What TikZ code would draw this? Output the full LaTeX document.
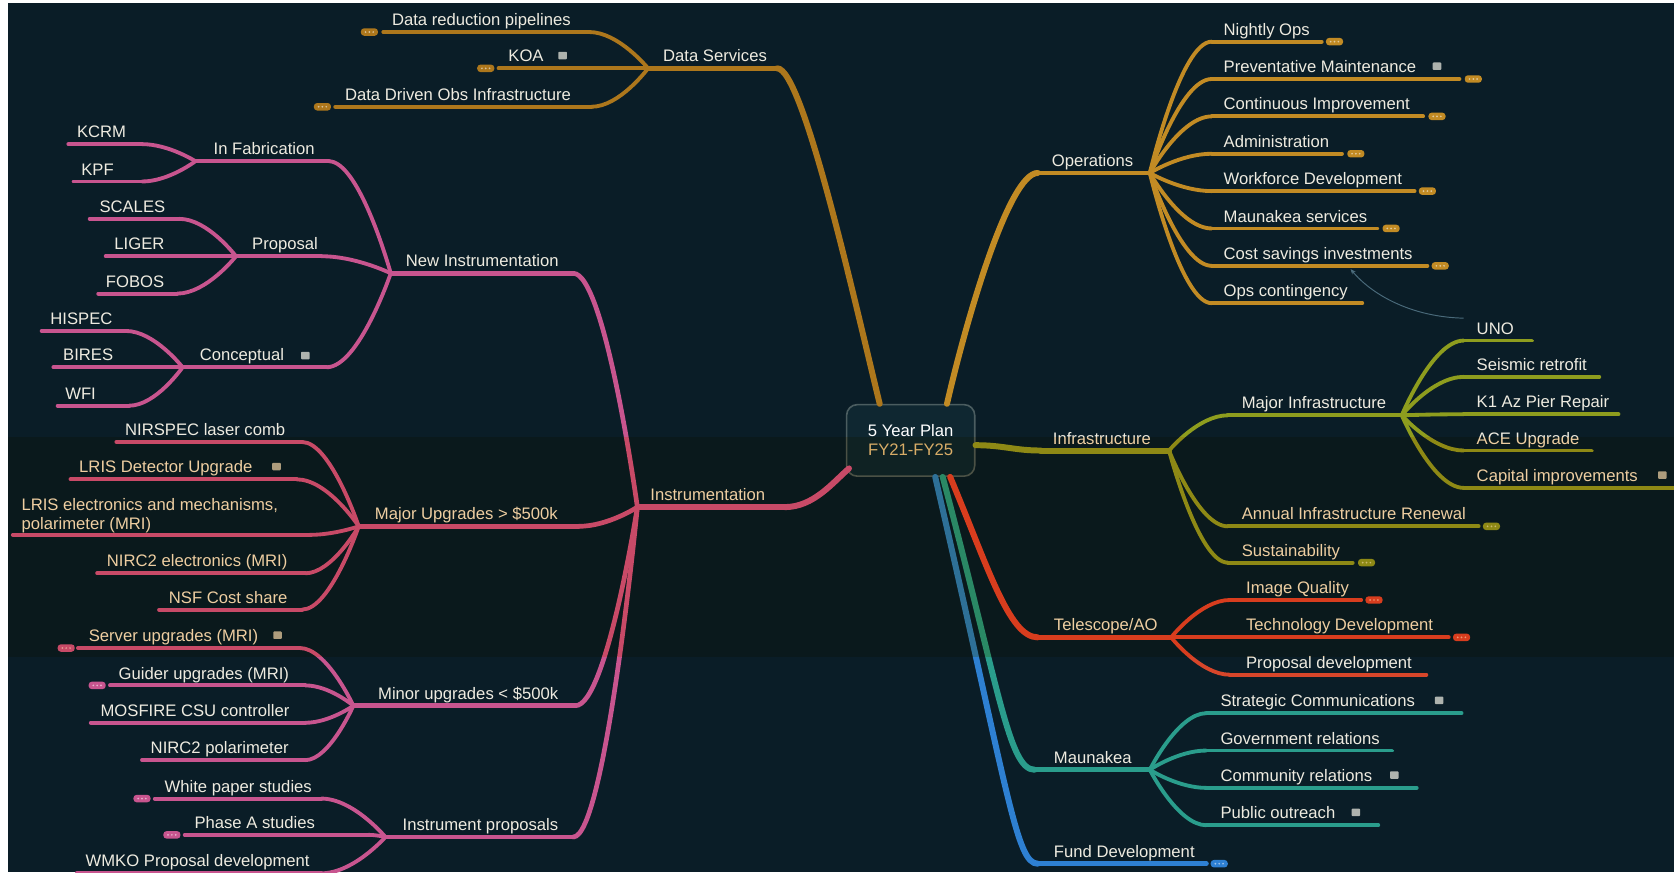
\documentclass[tikz,border=0pt]{standalone}
\usepackage{fontspec}
\setmainfont{Liberation Sans}
\usetikzlibrary{calc,arrows.meta}
\definecolor{bgC}{HTML}{0A1D27}
\definecolor{bandM}{HTML}{FFE0B8}
\definecolor{txtC}{HTML}{EEEBE0}
\definecolor{fyC}{HTML}{D8C590}
\definecolor{dsC}{HTML}{AD771C}
\definecolor{opC}{HTML}{C28B24}
\definecolor{pkC}{HTML}{C8558F}
\definecolor{olC}{HTML}{8E9D1E}
\definecolor{rdC}{HTML}{D8462A}
\definecolor{tlC}{HTML}{2A9D8C}
\definecolor{blC}{HTML}{2E80D2}
\definecolor{relC}{HTML}{4A6A7A}
\definecolor{noteC}{HTML}{AEB3AE}
\definecolor{rootB}{HTML}{4B5D60}
\definecolor{rootF}{HTML}{3C8090}
\newcommand\fs{\fontsize{15.6}{18}\selectfont}
\tikzset{
  lbl/.style={text=txtC, inner sep=0pt, font=\fs},
  wLeaf/.style={line width=3.6pt, line cap=round},
  wMid/.style={line width=4.4pt, line cap=round},
  wMain/.style={line width=5.6pt, line cap=round},
  cDS/.style={draw=dsC}, cOP/.style={draw=opC}, cPK/.style={draw=pkC},
  cOL/.style={draw=olC}, cRD/.style={draw=rdC}, cTL/.style={draw=tlC},
  cBL/.style={draw=blC},
  badge/.style={rounded corners=3pt, minimum width=16pt, minimum height=7pt, inner sep=0pt},
  notei/.style={fill=noteC, minimum width=8pt, minimum height=7pt, inner sep=0pt, rounded corners=0.8pt},
  relS/.style={draw=relC, line width=0.9pt},
  rootbox/.style={draw=rootB, line width=1.5pt, fill=rootF, fill opacity=0.1, text opacity=1,
    rounded corners=10pt, minimum width=120pt, minimum height=67pt, inner sep=0pt,
    text=white, font=\fs, align=center}
}
% topic: name, style, x start, x end, y line, x text, text
\newcommand\tp[7]{%
  \coordinate (#1S) at (#3,#5);
  \coordinate (#1E) at (#4,#5);
  \draw[#2] (#1S) -- (#1E);
  \node[lbl, anchor=base west] (#1) at (#6,#5-6) {#7};
}
\newcommand\lk[3]{\draw[#1] (#2) .. controls (#2) and ($(#3)!0.5!(#3 -| #2)$) .. (#3);}
\newcommand\bdg[3]{\node[badge, fill=#2] (#1) at (#3) {};
  \fill[white, fill opacity=0.55] ($(#1.center)+(-3.6,0)$) circle (0.9pt) (#1.center) circle (0.9pt) ($(#1.center)+(3.6,0)$) circle (0.9pt);}
\newcommand\nte[2]{\node[notei] (#1) at (#2) {};}
\begin{document}
\begin{tikzpicture}[x=1pt,y=-1pt]
\useasboundingbox (0,0) rectangle (1568,817);
\fill[white] (0,0) rectangle (1568,817);
\fill[bgC] (7.5,3) rectangle (1568,817);
\begin{scope}
\clip (7.5,3) rectangle (1568,817);
% root
\node[rootbox] (root) at (853,412.5) {5 Year Plan\\\textcolor{fyC}{FY21-FY25}};
\coordinate (rDS) at ($(root.north)+(-29,0)$);
\coordinate (rOP) at ($(root.north)+(34,0)$);
\coordinate (rIN) at ($(root.east)+(0,4.5)$);
\coordinate (rIS) at ($(root.south west)+(3,-8)$);
\coordinate (rTE) at ($(root.south)+(37,0)$);
\coordinate (rMK) at ($(root.south)+(30,0)$);
\coordinate (rFD) at ($(root.south)+(23,0)$);

% ---------- Data Services
\tp{dsv}{wMid,cDS}{607}{728}{64}{621}{Data Services}
\tp{drp}{wLeaf,cDS}{359}{552}{30}{367}{Data reduction pipelines}
\tp{koa}{wLeaf,cDS}{467}{607}{64}{476}{KOA}
\tp{ddo}{wLeaf,cDS}{314}{554}{100}{323}{Data Driven Obs Infrastructure}
\lk{wLeaf,cDS}{dsvS}{drpE}
\lk{wLeaf,cDS}{dsvS}{ddoE}
\draw[wMain,cDS] (rDS) .. controls (800,280) and (752,64) .. (dsvE);
\bdg{b1}{dsC}{346,30}
\bdg{b2}{dsC}{455,64}
\bdg{b3}{dsC}{302,100}
\nte{n1}{527,52}

% ---------- Operations
\tp{ops}{wMid,cOP}{972}{1077}{162}{985}{Operations}
\draw[wMain,cOP] (rOP) .. controls (905,300) and (945,162) .. (opsS);
\tp{nops}{wLeaf,cOP}{1135}{1238}{39}{1146}{Nightly Ops}
\tp{pm}{wLeaf,cOP}{1135}{1367}{74}{1146}{Preventative Maintenance}
\tp{ci}{wLeaf,cOP}{1135}{1333}{109}{1146}{Continuous Improvement}
\tp{adm}{wLeaf,cOP}{1135}{1257}{144}{1146}{Administration}
\tp{wfd}{wLeaf,cOP}{1135}{1325}{179}{1146}{Workforce Development}
\tp{mks}{wLeaf,cOP}{1135}{1290}{214}{1146}{Maunakea services}
\tp{csi}{wLeaf,cOP}{1135}{1337}{249}{1146}{Cost savings investments}
\tp{opc}{wLeaf,cOP}{1135}{1276}{284}{1146}{Ops contingency}
\foreach \c in {nops,pm,ci,adm,wfd,mks,csi,opc} {\lk{wLeaf,cOP}{opsE}{\c S}}
\bdg{b4}{opC}{1250,39}
\bdg{b5}{opC}{1380,74}
\bdg{b6}{opC}{1346,109}
\bdg{b7}{opC}{1270,144}
\bdg{b8}{opC}{1337,179}
\bdg{b9}{opC}{1303,214}
\bdg{b10}{opC}{1349,249}
\nte{n2}{1346,62}

% ---------- Infrastructure
\tp{inf}{wMain,cOL}{975}{1095}{422}{986}{Infrastructure}
\draw[wMain,cOL] (rIN) .. controls (940,417) and (950,422) .. (infS);
\tp{mji}{wLeaf,cOL}{1150}{1313}{389}{1163}{Major Infrastructure}
\tp{air}{wLeaf,cOL}{1150}{1385}{493}{1163}{Annual Infrastructure Renewal}
\tp{sus}{wLeaf,cOL}{1150}{1267}{527}{1163}{Sustainability}
\foreach \c in {mji,air,sus} {\lk{wLeaf,cOL}{infE}{\c S}}
\tp{uno}{wLeaf,cOL}{1371}{1435}{319}{1383}{UNO}
\tp{sr}{wLeaf,cOL}{1371}{1498}{353}{1383}{Seismic retrofit}
\tp{kap}{wLeaf,cOL}{1371}{1516}{388}{1383}{K1 Az Pier Repair}
\tp{ace}{wLeaf,cOL}{1371}{1491}{422}{1383}{ACE Upgrade}
\tp{cap}{wLeaf,cOL}{1371}{1578}{457}{1383}{Capital improvements}
\foreach \c in {uno,sr,kap,ace,cap} {\lk{wLeaf,cOL}{mjiE}{\c S}}
\bdg{b11}{olC}{1397,493}
\bdg{b12}{olC}{1280,527}
\nte{n3}{1557,445}

% ---------- Telescope/AO
\tp{tel}{wMid,cRD}{972}{1097}{597}{987}{Telescope/AO}
\draw[wMain,cRD] (rTE) .. controls (925,530) and (945,597) .. (telS);
\tp{iq}{wLeaf,cRD}{1152}{1275}{562}{1167}{Image Quality}
\tp{td}{wLeaf,cRD}{1152}{1357}{597}{1167}{Technology Development}
\tp{pd}{wLeaf,cRD}{1152}{1336}{632}{1167}{Proposal development}
\foreach \c in {iq,td,pd} {\lk{wLeaf,cRD}{telE}{\c S}}
\bdg{b13}{rdC}{1287,562}
\bdg{b14}{rdC}{1369,597}

% ---------- Maunakea
\tp{mk}{wMid,cTL}{969}{1077}{721}{987}{Maunakea}
\draw[wMain,cTL] (rMK) .. controls (936,646) and (945,721) .. (mkS);
\tp{sc}{wLeaf,cTL}{1130}{1369}{668}{1143}{Strategic Communications}
\tp{gr}{wLeaf,cTL}{1130}{1304}{703}{1143}{Government relations}
\tp{cr}{wLeaf,cTL}{1130}{1327}{738}{1143}{Community relations}
\tp{po}{wLeaf,cTL}{1130}{1291}{773}{1143}{Public outreach}
\foreach \c in {sc,gr,cr,po} {\lk{wLeaf,cTL}{mkE}{\c S}}
\nte{n4}{1348,656}
\nte{n5}{1306,726}
\nte{n6}{1270,761}

% ---------- Fund Development
\tp{fd}{wMid,cBL}{972}{1130}{809}{987}{Fund Development}
\draw[wMain,cBL] (rFD) .. controls (945,746) and (952,809) .. (fdS);
\bdg{b15}{blC}{1142,809}

% ---------- Instrumentation
\tp{ins}{wMain,cPK}{597}{735}{475}{609}{Instrumentation}
\draw[wMain,cPK] (insE) .. controls (762,475) and (780,452) .. (rIS);
% New Instrumentation
\tp{ni}{wMid,cPK}{366}{537}{256}{380}{New Instrumentation}
\tp{ifb}{wLeaf,cPK}{183}{308}{151}{200}{In Fabrication}
\tp{prp}{wLeaf,cPK}{221}{301}{240}{236}{Proposal}
\tp{cnc}{wLeaf,cPK}{171}{306}{344}{187}{Conceptual}
\foreach \c in {ifb,prp,cnc} {\lk{wLeaf,cPK}{niS}{\c E}}
\tp{kcrm}{wLeaf,cPK}{64}{133}{135}{72}{KCRM}
\tp{kpf}{wLeaf,cPK}{69}{133}{170}{76}{KPF}
\foreach \c in {kcrm,kpf} {\lk{wLeaf,cPK}{ifbS}{\c E}}
\tp{scl}{wLeaf,cPK}{84}{168}{205}{93}{SCALES}
\tp{lig}{wLeaf,cPK}{99}{221}{240}{107}{LIGER}
\tp{fob}{wLeaf,cPK}{92}{166}{275}{99}{FOBOS}
\foreach \c in {scl,fob} {\lk{wLeaf,cPK}{prpS}{\c E}}
\tp{his}{wLeaf,cPK}{39}{118}{310}{47}{HISPEC}
\tp{bir}{wLeaf,cPK}{50}{171}{344}{59}{BIRES}
\tp{wfi}{wLeaf,cPK}{54}{121}{380}{61}{WFI}
\foreach \c in {his,wfi} {\lk{wLeaf,cPK}{cncS}{\c E}}
\nte{n7}{286,333}
% Major upgrades
\tp{mju}{wMid,cPK}{336}{542}{493}{351}{Major Upgrades > \$500k}
\tp{nlc}{wLeaf,cPK}{109}{283}{414}{117}{NIRSPEC laser comb}
\tp{ldu}{wLeaf,cPK}{66}{278}{449}{74}{LRIS Detector Upgrade}
\coordinate (lemS) at (12,501);
\coordinate (lemE) at (290,501);
\draw[wLeaf,cPK] (lemS) -- (lemE);
\node[lbl, anchor=south west, align=left] (lem) at (20,499.5) {LRIS electronics and mechanisms,\\polarimeter (MRI)};
\tp{n2e}{wLeaf,cPK}{91}{286}{537}{100}{NIRC2 electronics (MRI)}
\tp{nsf}{wLeaf,cPK}{149}{283}{571}{158}{NSF Cost share}
\foreach \c in {nlc,ldu,lem,n2e,nsf} {\lk{wLeaf,cPK}{mjuS}{\c E}}
\nte{n8}{259,437}
% Minor upgrades
\tp{mnu}{wMid,cPK}{331}{539}{661}{354}{Minor upgrades < \$500k}
\tp{srv}{wLeaf,cPK}{73}{281}{607}{83}{Server upgrades (MRI)}
\tp{gdr}{wLeaf,cPK}{103}{286}{642}{111}{Guider upgrades (MRI)}
\tp{mos}{wLeaf,cPK}{85}{286}{677}{94}{MOSFIRE CSU controller}
\tp{ntp}{wLeaf,cPK}{133}{286}{712}{141}{NIRC2 polarimeter}
\foreach \c in {srv,gdr,mos,ntp} {\lk{wLeaf,cPK}{mnuS}{\c E}}
\nte{n9}{260,595}
\bdg{b16}{pkC}{62,607}
\bdg{b17}{pkC}{91,642}
% Instrument proposals
\tp{ipr}{wMid,cPK}{361}{537}{784}{377}{Instrument proposals}
\tp{wps}{wLeaf,cPK}{145}{301}{748}{154}{White paper studies}
\tp{pha}{wLeaf,cPK}{173}{345}{782}{182}{Phase A studies}
\tp{wmk}{wLeaf,cPK}{72}{301}{818}{80}{WMKO Proposal development}
\foreach \c in {wps,pha,wmk} {\lk{wLeaf,cPK}{iprS}{\c E}}
\bdg{b18}{pkC}{133,748}
\bdg{b19}{pkC}{161,782}
\foreach \c in {ni,mju,mnu,ipr} {\lk{wMid,cPK}{insS}{\c E}}

% relation UNO -> Cost savings
\coordinate (relA) at (1371,298);
\coordinate (relB) at (1265,252);
\draw[relS,-{Stealth[length=5pt,width=4pt]}] (relA) .. controls (1322,297) and (1285,276) .. (relB);

% band overlay
\begin{scope}[blend mode=multiply]
\fill[bandM] (7.5,409) rectangle (1568,615);
\end{scope}
\end{scope}
\end{tikzpicture}
\end{document}
